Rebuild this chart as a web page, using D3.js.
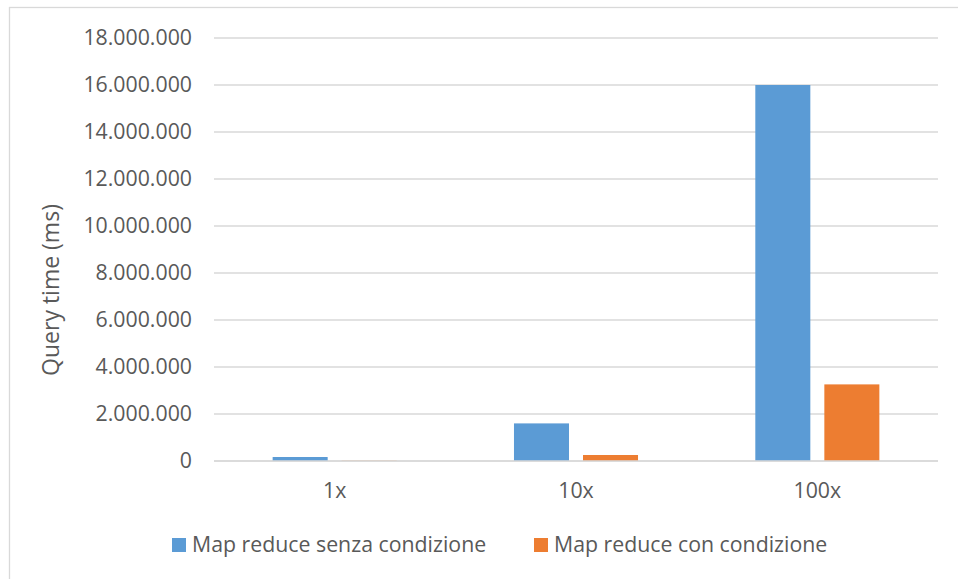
<!DOCTYPE html>
<html>
<head>
<meta charset="utf-8">
<script src="https://cdn.jsdelivr.net/npm/d3@7"></script>
<style>
  html, body { margin: 0; padding: 0; background: #fff; }
  svg { display: block; }
  text { font-family: "Open Sans", sans-serif; fill: #595959; }
</style>
</head>
<body>
<script>
const categories = ["1x", "10x", "100x"];
const seriesNames = ["Map reduce senza condizione", "Map reduce con condizione"];
const senzaCondizione = [170000, 1600000, 16000000];
const conCondizione = [12000, 255000, 3260000];
const yTicks = [0, 2000000, 4000000, 6000000, 8000000, 10000000, 12000000, 14000000, 16000000, 18000000];
const colors = ["#5b9bd5", "#ed7d31"];
const yLabel = "Query time (ms)";

const W = 958, H = 579;
const plotLeft = 214, plotRight = 938, plotTop = 38, plotBottom = 461;
const fs = 21.3;

const svg = d3.select("body").append("svg").attr("width", W).attr("height", H);

svg.append("rect")
  .attr("x", 9.5).attr("y", 7.5).attr("width", W).attr("height", H)
  .attr("fill", "#fff").attr("stroke", "#d9d9d9").attr("stroke-width", 1.3);

const y = d3.scaleLinear().domain([0, 18000000]).range([plotBottom, plotTop]);
const x0 = d3.scaleBand().domain(categories).range([plotLeft, plotRight]).paddingInner(0.486).paddingOuter(0.243);
const x1 = d3.scaleBand().domain(seriesNames).range([0, x0.bandwidth()]).paddingInner(0.203);

const fmt = v => d3.format(",")(v).replace(/,/g, ".");

// gridlines
svg.append("g").selectAll("line").data(yTicks).join("line")
  .attr("x1", plotLeft).attr("x2", plotRight)
  .attr("y1", d => y(d)).attr("y2", d => y(d))
  .attr("stroke", "#d9d9d9").attr("stroke-width", 1.3);

// y tick labels
svg.append("g").selectAll("text").data(yTicks).join("text")
  .attr("x", 192).attr("y", d => y(d)).attr("dy", "0.35em")
  .attr("text-anchor", "end").attr("font-size", fs)
  .text(d => fmt(d));

// bars
const rows = categories.map((c, i) => ({ cat: c, vals: [senzaCondizione[i], conCondizione[i]] }));
const groups = svg.append("g").selectAll("g").data(rows).join("g")
  .attr("transform", d => `translate(${x0(d.cat)},0)`);
groups.selectAll("rect").data(d => d.vals.map((v, j) => ({ v, s: seriesNames[j], j })))
  .join("rect")
  .attr("x", d => x1(d.s))
  .attr("width", x1.bandwidth())
  .attr("y", d => y(d.v))
  .attr("height", d => plotBottom - y(d.v))
  .attr("fill", d => colors[d.j]);

// baseline redraw
svg.append("line").attr("x1", plotLeft).attr("x2", plotRight).attr("y1", y(0)).attr("y2", y(0))
  .attr("stroke", "#d9d9d9").attr("stroke-width", 1.3);

// x labels
svg.append("g").selectAll("text").data(categories).join("text")
  .attr("x", d => x0(d) + x0.bandwidth() / 2).attr("y", 498)
  .attr("text-anchor", "middle").attr("font-size", fs)
  .text(d => d);

// y axis title
svg.append("text")
  .attr("transform", "translate(59,290) rotate(-90)")
  .attr("text-anchor", "middle").attr("font-size", 23)
  .text(yLabel);

// legend
const legendX = [172, 534];
const lg = svg.append("g").selectAll("g").data(seriesNames).join("g")
  .attr("transform", (d, i) => `translate(${legendX[i]},538)`);
lg.append("rect").attr("width", 14).attr("height", 14).attr("fill", (d, i) => colors[i]);
lg.append("text").attr("x", 20).attr("y", 13.5).attr("font-size", fs).text(d => d);
</script>
</body>
</html>
